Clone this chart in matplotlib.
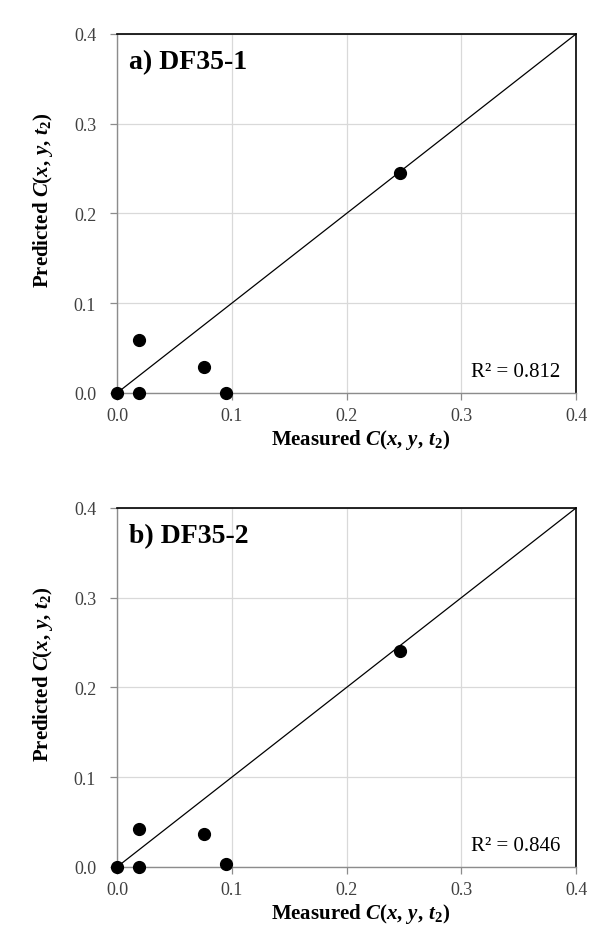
import matplotlib.pyplot as plt

plt.rcParams['font.family'] = ['Liberation Serif', 'DejaVu Serif']
plt.rcParams['mathtext.fontset'] = 'custom'
plt.rcParams['mathtext.rm'] = 'Liberation Serif:bold'
plt.rcParams['mathtext.it'] = 'Liberation Serif:bold:italic'
plt.rcParams['mathtext.bf'] = 'Liberation Serif:bold'

# data -----------------------------------------------------------------------
meas_a = [0.0, 0.019, 0.019, 0.076, 0.095, 0.247]
pred_a = [0.0, 0.059, 0.0, 0.0285, 0.0, 0.245]
meas_b = [0.0, 0.019, 0.019, 0.076, 0.095, 0.247]
pred_b = [0.0, 0.042, 0.0, 0.0367, 0.003, 0.241]
titles = ['a) DF35-1', 'b) DF35-2']
r2 = ['R² = 0.812', 'R² = 0.846']
ticks = [0.0, 0.1, 0.2, 0.3, 0.4]

fig = plt.figure(figsize=(6.13, 9.45), dpi=100)
axA = fig.add_axes([0.1909, 0.5831, 0.7488, 0.3799])
axB = fig.add_axes([0.1909, 0.0815, 0.7488, 0.3799])

lbl = r'$\mathit{C}(\mathit{x},\,\mathit{y},\,\mathit{t}_2)$'
for ax, mx, py, ttl, rr in zip((axA, axB), (meas_a, meas_b), (pred_a, pred_b), titles, r2):
    ax.set_xlim(0, 0.4)
    ax.set_ylim(0, 0.4)
    ax.set_xticks(ticks)
    ax.set_yticks(ticks)
    ax.set_xticklabels([f'{t:.1f}' for t in ticks])
    ax.set_yticklabels([f'{t:.1f}' for t in ticks])
    ax.grid(True, color='#d9d9d9', lw=0.9, zorder=0)
    ax.set_axisbelow(True)
    ax.plot([0, 0.4], [0, 0.4], color='black', lw=0.9, zorder=2)
    ax.plot(mx, py, 'o', color='black', ms=8.5, zorder=3, clip_on=False)
    for s in ('left', 'bottom'):
        ax.spines[s].set_color('#8c8c8c')
        ax.spines[s].set_linewidth(1.0)
    for s in ('top', 'right'):
        ax.spines[s].set_color('black')
        ax.spines[s].set_linewidth(1.2)
    ax.tick_params(axis='both', direction='out', length=5, width=0.9,
                   color='#8c8c8c', labelsize=13, labelcolor='#404040')
    ax.tick_params(axis='x', pad=5)
    ax.tick_params(axis='y', pad=10)
    ax.text(0.026, 0.922, ttl, transform=ax.transAxes, fontsize=20,
            fontweight='bold', ha='left', va='center')
    ax.text(0.965, 0.061, rr, transform=ax.transAxes, fontsize=15,
            ha='right', va='center')
    ax.set_xlabel('Measured ' + lbl, fontsize=15, fontweight='bold', labelpad=2)
    ax.set_ylabel('Predicted ' + lbl, fontsize=15, fontweight='bold', labelpad=10)
    ax.xaxis.set_label_coords(0.53, -0.095)
    ax.yaxis.set_label_coords(-0.135, 0.54)

fig.savefig('out.png', dpi=100)
